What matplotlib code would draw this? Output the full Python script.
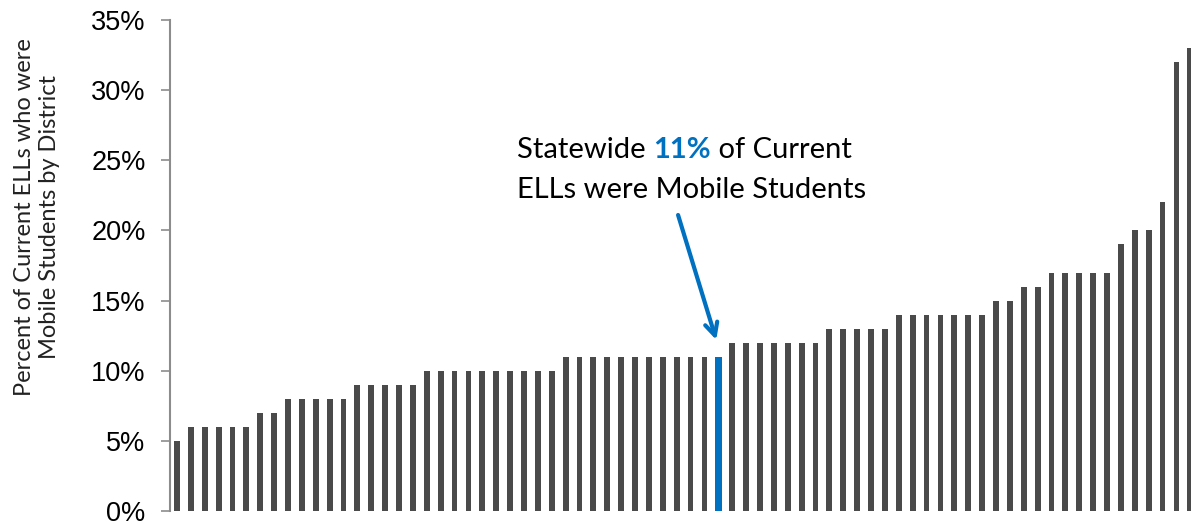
import matplotlib
matplotlib.use("Agg")
import matplotlib.pyplot as plt
from matplotlib.ticker import FuncFormatter

# Values (%) by district, sorted ascending; statewide bar highlighted
gray_values = [5] + [6]*5 + [7]*2 + [8]*5 + [9]*5 + [10]*10 + [11]*11
statewide_value = 11
upper_values = [12]*7 + [13]*5 + [14]*7 + [15]*2 + [16]*2 + [17]*5 + [19] + [20]*2 + [22] + [32, 33]
values = gray_values + [statewide_value] + upper_values
highlight_index = len(gray_values)
yticks = [0, 5, 10, 15, 20, 25, 30, 35]

GRAY = "#4a4a4a"
BLUE = "#0070C0"

fig = plt.figure(figsize=(11.91, 5.24), dpi=100)
ax = fig.add_axes([170/1191, 13/524, 1 - 170/1191, (511-20)/524])

x = list(range(len(values)))
colors = [BLUE if i == highlight_index else GRAY for i in x]
widths = [0.5 if i == highlight_index else 0.42 for i in x]
ax.bar(x, values, width=widths, color=colors, zorder=2)

ax.set_xlim(-0.5, 73.05)
ax.set_ylim(0, 35)
ax.set_yticks(yticks)
ax.yaxis.set_major_formatter(FuncFormatter(lambda v, p: f"{int(v)}%"))
for lab in ax.get_yticklabels():
    lab.set_fontfamily("Liberation Sans")
    lab.set_fontsize(19.5)
ax.tick_params(axis="y", direction="out", length=6.5, width=1.2, color="#8c8c8c", pad=11)
ax.tick_params(axis="x", bottom=False, labelbottom=False)
for s in ["top", "right", "bottom"]:
    ax.spines[s].set_visible(False)
ax.spines["left"].set_color("#8c8c8c")
ax.spines["left"].set_linewidth(1.5)

fig.text(37/1191, 1 - 217/524, "Percent of Current ELLs who were\nMobile Students by District",
         rotation=90, ha="center", va="center", fontsize=17, family="Lato",
         linespacing=1.2, color="#222222")

# Annotation text with mixed styling
fs = 21
fam = "Lato"
y1 = 1 - 150/524
y2 = 1 - 190/524
x0 = 517/1191
t1 = fig.text(x0, y1, "Statewide ", fontsize=fs, family=fam, va="center", ha="left")
fig.canvas.draw()
r = fig.canvas.get_renderer()
bb = t1.get_window_extent(renderer=r)
t2 = fig.text(bb.x1/1191, y1, "11%", fontsize=fs, family=fam, weight="bold", color=BLUE, va="center", ha="left")
bb2 = t2.get_window_extent(renderer=r)
fig.text(bb2.x1/1191, y1, " of Current", fontsize=fs, family=fam, va="center", ha="left")
fig.text(x0, y2, "ELLs were Mobile Students", fontsize=fs, family=fam, va="center", ha="left")

ax.annotate("", xy=(highlight_index - 0.15, 12.2), xytext=(36.1, 21.1), xycoords="data",
            arrowprops=dict(arrowstyle="->,head_length=0.9,head_width=0.45", color=BLUE, lw=3,
                            shrinkA=0, shrinkB=0))

fig.savefig("out.png", dpi=100)
